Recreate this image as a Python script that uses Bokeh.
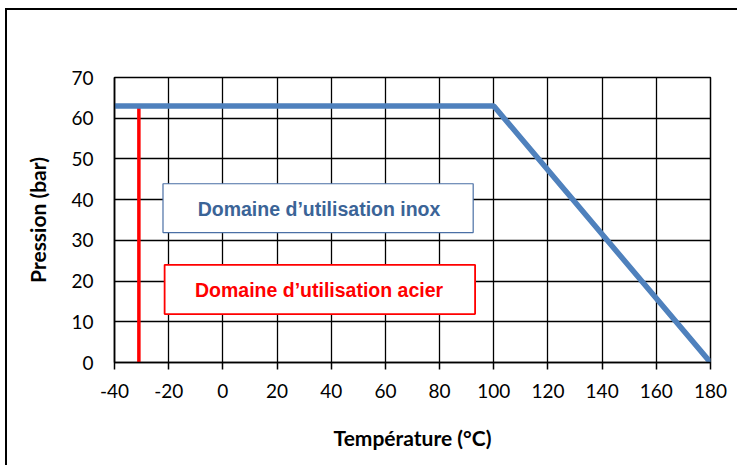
from bokeh.plotting import figure
from bokeh.models import FixedTicker, Range1d, ColumnDataSource
from bokeh.core.properties import value
from bokeh.embed import file_html
from bokeh.resources import INLINE

# ---- data ----
inox_temp = [-40, 100, 180]
inox_press = [63, 63, 0]
acier_temp = [-31, -31]
acier_press = [0, 63]
x_ticks = [-40, -20, 0, 20, 40, 60, 80, 100, 120, 140, 160, 180]
y_ticks = [0, 10, 20, 30, 40, 50, 60, 70]
labels = ["Domaine d\u2019utilisation inox", "Domaine d\u2019utilisation acier"]
label_x = [35.5, 35.5]
label_y = [37.7, 17.8]
box_left = [-22.1, -21.5]
box_right = [92.4, 93.1]
box_bottom = [31.9, 11.9]
box_top = [43.9, 24.0]

BLUE = "#4F81BD"
RED = "#FF0000"

p = figure(width=732, height=457, output_backend="svg", toolbar_location=None,
           x_range=Range1d(-40, 180), y_range=Range1d(0, 70),
           min_border_left=107, min_border_right=29, min_border_top=67, min_border_bottom=105,
           styles={"border-left": "2px solid black", "border-top": "2px solid black",
                   "margin-left": "5px", "margin-top": "8px"})

p.outline_line_color = "black"
p.outline_line_width = 1.5
p.background_fill_color = "white"
p.border_fill_color = "white"

p.xgrid.grid_line_color = "black"
p.ygrid.grid_line_color = "black"
p.xgrid.grid_line_width = 1.3
p.ygrid.grid_line_width = 1.3

p.xaxis.ticker = FixedTicker(ticks=x_ticks)
p.yaxis.ticker = FixedTicker(ticks=y_ticks)
for ax in (p.xaxis, p.yaxis):
    ax.major_label_text_font = "Lato"
    ax.major_label_text_font_size = "19px"
    ax.major_label_text_color = "black"
    ax.axis_label_text_font = "Lato"
    ax.axis_label_text_font_style = "bold"
    ax.axis_label_text_font_size = "21px"
    ax.axis_label_text_color = "black"
    ax.minor_tick_line_color = None
    ax.axis_line_color = "black"
    ax.axis_line_width = 1.5
    ax.major_tick_in = 0

p.xaxis.major_label_overrides = {t: str(t) for t in x_ticks}
p.xaxis.major_tick_out = 7
p.xaxis.major_tick_line_width = 1.5
p.xaxis.major_tick_line_color = "black"
p.xaxis.major_label_standoff = 14
p.xaxis.axis_label = "Température (°C)"
p.xaxis.axis_label_standoff = 24

p.yaxis.major_tick_out = 0
p.yaxis.major_tick_line_color = None
p.yaxis.major_label_standoff = 21
p.yaxis.axis_label = "Pression (bar)"
p.yaxis.axis_label_standoff = 18

# boxes
src = ColumnDataSource(dict(left=box_left, right=box_right, bottom=box_bottom, top=box_top,
                            lc=["#4A6FA5", RED], lw=[1.2, 1.8], tx=label_x, ty=label_y,
                            txt=labels, tc=["#3B6497", RED]))

p.line(acier_temp, acier_press, line_color=RED, line_width=3.5)
p.line(inox_temp, inox_press, line_color=BLUE, line_width=5.5)

p.quad(left="left", right="right", bottom="bottom", top="top", source=src,
       fill_color="white", line_color="lc", line_width="lw")
p.text(x="tx", y="ty", text="txt", source=src, text_color="tc",
       text_font=value("Liberation Sans"), text_font_style="bold",
       text_font_size="19.5px", text_align="center", text_baseline="middle")

open("out.html", "w").write(file_html(p, INLINE))
